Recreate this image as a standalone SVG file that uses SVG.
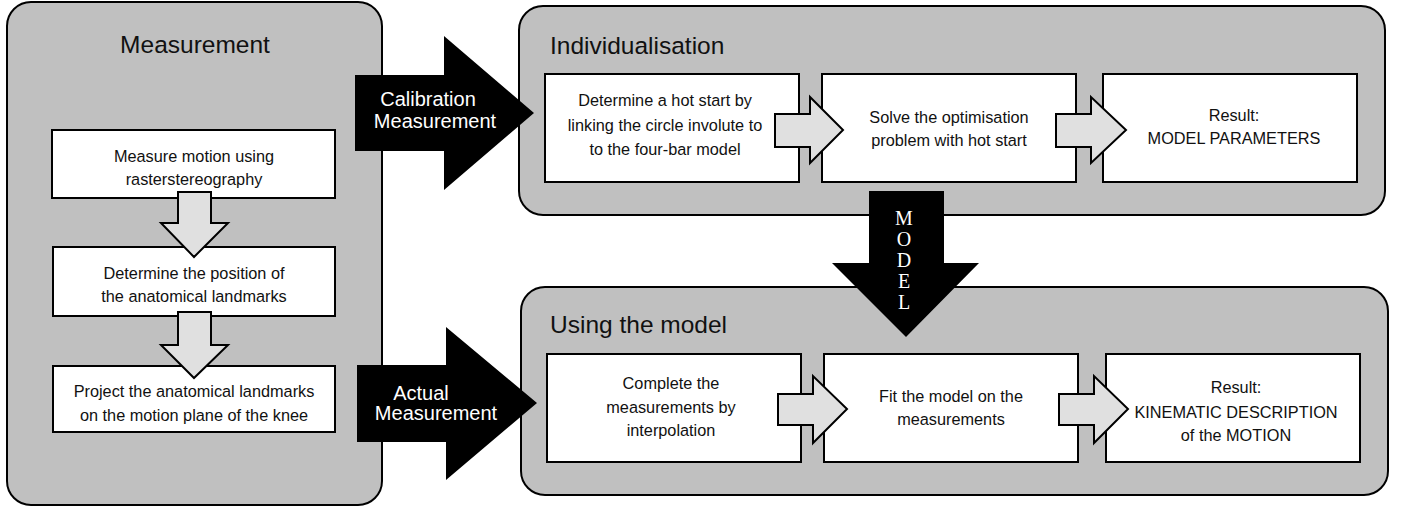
<svg xmlns="http://www.w3.org/2000/svg" width="1402" height="508" viewBox="0 0 1402 508">
  <style>
    .panel { fill: #c0c0c0; stroke: #000; stroke-width: 2; }
    .box { fill: #fff; stroke: #000; stroke-width: 2; }
    .title { font-family: "Liberation Sans", Arial, sans-serif; font-size: 24.5px; fill: #111; }
    .txt { font-family: "Liberation Sans", Arial, sans-serif; font-size: 16.3px; fill: #111; text-anchor: middle; }
    .small { fill: #e0e0e0; stroke: #000; stroke-width: 2; stroke-linejoin: miter; }
    .big { fill: #000; stroke: none; }
    .blab { font-family: "Liberation Sans", Arial, sans-serif; font-size: 20px; fill: #fff; text-anchor: middle; }
    .serif { font-family: "Liberation Serif", "Times New Roman", serif; font-size: 20px; fill: #fff; text-anchor: middle; }
  </style>
  <rect width="1402" height="508" fill="#fff"/>

  <g id="panel-measurement">
    <rect class="panel" x="7" y="2" width="375" height="503" rx="24" ry="24"/>
    <text class="title" x="195" y="53" text-anchor="middle">Measurement</text>
  </g>
  <g id="panel-individualisation">
    <rect class="panel" x="519" y="6" width="866" height="209" rx="24" ry="24"/>
    <text class="title" x="550" y="54">Individualisation</text>
  </g>
  <g id="panel-using">
    <rect class="panel" x="521" y="287" width="867" height="208" rx="24" ry="24"/>
    <text class="title" x="550" y="333">Using the model</text>
  </g>

  <g id="node-measure-motion">
    <rect class="box" x="52" y="130" width="283" height="68"/>
    <text class="txt" x="194" y="162">Measure motion using</text>
    <text class="txt" x="194" y="185">rasterstereography</text>
  </g>
  <g id="node-determine-position">
    <rect class="box" x="53" y="247" width="282" height="69"/>
    <text class="txt" x="194" y="279">Determine the position of</text>
    <text class="txt" x="194" y="302">the anatomical landmarks</text>
  </g>
  <g id="node-project">
    <rect class="box" x="53" y="366" width="282" height="66"/>
    <text class="txt" x="194" y="397">Project the anatomical landmarks</text>
    <text class="txt" x="194" y="421">on the motion plane of the knee</text>
  </g>

  <g id="node-hot-start">
    <rect class="box" x="545" y="74" width="254" height="108"/>
    <text class="txt" x="665" y="106">Determine a hot start by</text>
    <text class="txt" x="665" y="131">linking the circle involute to</text>
    <text class="txt" x="665" y="155">to the four-bar model</text>
  </g>
  <g id="node-solve">
    <rect class="box" x="822" y="74" width="254" height="108"/>
    <text class="txt" x="949" y="123">Solve the optimisation</text>
    <text class="txt" x="949" y="146">problem with hot start</text>
  </g>
  <g id="node-model-parameters">
    <rect class="box" x="1103" y="74" width="254" height="108"/>
    <text class="txt" x="1234" y="121">Result:</text>
    <text class="txt" x="1234" y="144">MODEL PARAMETERS</text>
  </g>

  <g id="node-complete">
    <rect class="box" x="547" y="354" width="254" height="108"/>
    <text class="txt" x="671" y="389">Complete the</text>
    <text class="txt" x="671" y="413">measurements by</text>
    <text class="txt" x="671" y="436">interpolation</text>
  </g>
  <g id="node-fit">
    <rect class="box" x="824" y="354" width="254" height="108"/>
    <text class="txt" x="951" y="402">Fit the model on the</text>
    <text class="txt" x="951" y="425">measurements</text>
  </g>
  <g id="node-kinematic">
    <rect class="box" x="1106" y="354" width="254" height="108"/>
    <text class="txt" x="1236" y="393">Result:</text>
    <text class="txt" x="1236" y="418">KINEMATIC DESCRIPTION</text>
    <text class="txt" x="1236" y="441">of the MOTION</text>
  </g>

  <g id="connectors">
    <polygon class="small" points="178,192 211,192 211,223 228,223 194,257 161,223 178,223"/>
    <polygon class="small" points="178,312 211,312 211,345 228,345 194,378 161,345 178,345"/>
    <polygon class="small" points="775,114 810,114 810,97 843,130 810,163 810,147 775,147"/>
    <polygon class="small" points="1056,114 1091,114 1091,97 1126,130 1091,163 1091,147 1056,147"/>
    <polygon class="small" points="778,394 813,394 813,376 847,409 813,443 813,425 778,425"/>
    <polygon class="small" points="1059,394 1094,394 1094,376 1128,409 1094,443 1094,425 1059,425"/>

    <g id="arrow-calibration">
      <polygon class="big" points="355,75 444,75 444,36 534,113 444,190 444,151 355,151"/>
      <text class="blab" x="428" y="106">Calibration</text>
      <text class="blab" x="435" y="128">Measurement</text>
    </g>
    <g id="arrow-actual">
      <polygon class="big" points="357,365 446,365 446,327 537,403 446,480 446,442 357,442"/>
      <text class="blab" x="421" y="400">Actual</text>
      <text class="blab" x="436" y="420">Measurement</text>
    </g>
    <g id="arrow-model">
      <polygon class="big" points="869,191 944,191 944,263 979,263 906,337 832,263 869,263"/>
      <text class="serif" x="904" y="225">M</text>
      <text class="serif" x="904" y="246">O</text>
      <text class="serif" x="904" y="267">D</text>
      <text class="serif" x="904" y="288">E</text>
      <text class="serif" x="904" y="309">L</text>
    </g>
  </g>
</svg>
